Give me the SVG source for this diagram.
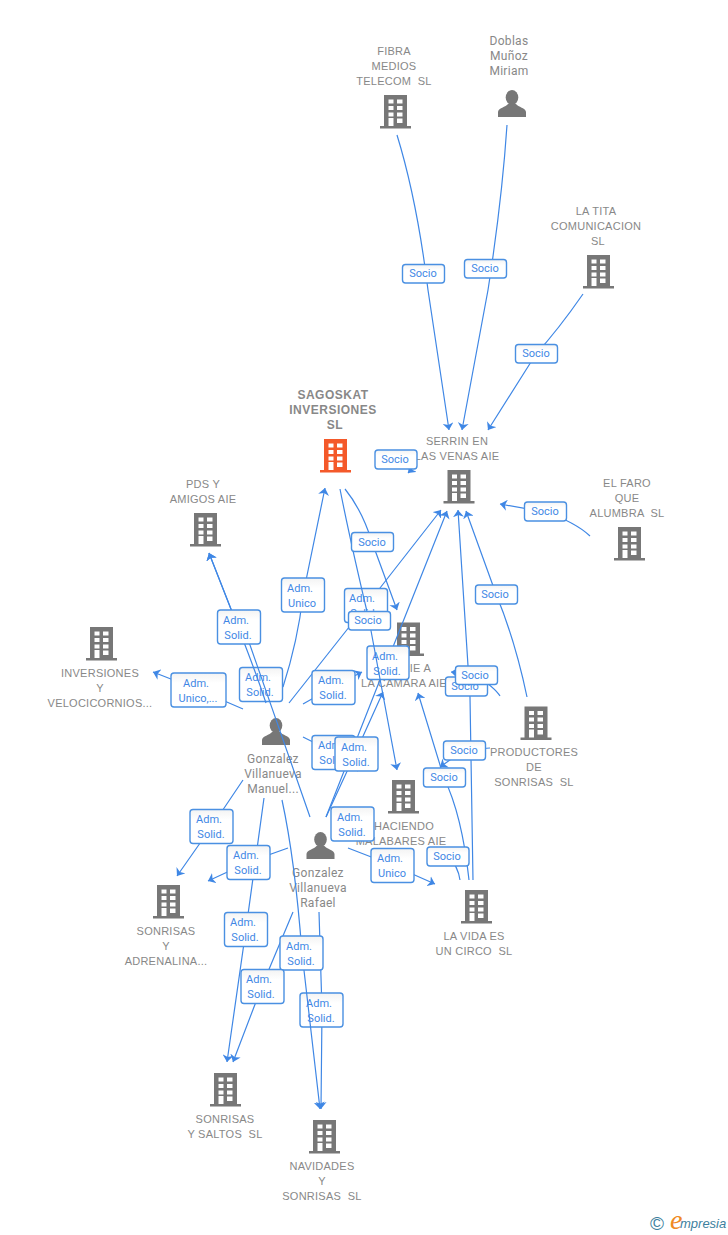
<svg xmlns="http://www.w3.org/2000/svg" width="728" height="1235" viewBox="0 0 728 1235">
<style>
text{font-family:"Liberation Sans",Arial,sans-serif;white-space:pre}
.c{font-size:11px;fill:#888;text-anchor:middle;letter-spacing:.25px}
.p{font-family:Roboto,sans-serif;font-size:12px;fill:#888;text-anchor:middle;letter-spacing:.3px}
.m{font-size:12px;font-weight:bold;fill:#888;text-anchor:middle;letter-spacing:.5px}
.e{fill:none;stroke:#3f87e5;stroke-width:1.2}
.a{marker-end:url(#arr)}
.b{fill:url(#bg);stroke:#4a90e2;stroke-width:1.4}
.t{font-family:Roboto,sans-serif;font-size:11px;fill:#3f87e5;text-anchor:middle}
</style>
<defs>
<linearGradient id="bg" x1="0" y1="0" x2="0" y2="1"><stop offset="0" stop-color="#f3f3f3"/><stop offset=".3" stop-color="#fff"/><stop offset="1" stop-color="#fff"/></linearGradient>
<marker id="arr" viewBox="0 0 7 11" markerWidth="7" markerHeight="11" refX="7" refY="5.5" orient="auto" markerUnits="userSpaceOnUse"><path d="M7,5.5 L0,0 L2,5.5 L0,11 Z" fill="#3f87e5"/></marker>
<g id="bld"><path d="M4,0H27V31H31V33.5H0V31H4ZM8.5,4.5V8.5H13.5V4.5ZM17,4.5V8.5H22.5V4.5ZM8.5,11V15H13.5V11ZM17,11V15H22.5V11ZM8.5,17.5V21.5H13.5V17.5ZM17,17.5V21.5H22.5V17.5ZM8.5,23V31H13.5V23ZM17,23.5V28H22.5V23.5Z" fill-rule="evenodd"/></g>
<g id="psn"><ellipse cx="14" cy="7.5" rx="6.3" ry="7.5"/><path d="M0,27V22C0,18 8,17 10,14H18C20,17 28,18 28,22V27Z"/></g>
</defs>
<rect width="728" height="1235" fill="#fff"/>
<g id="nodes" fill="#777">
<g id="n-sagoskat"><use href="#bld" x="320" y="439" fill="#f4592a"/><text class="m" x="333" y="399">SAGOSKAT</text><text class="m" x="333" y="414">INVERSIONES</text><text class="m" x="335" y="429">SL</text></g>
<g id="n-fibra"><use href="#bld" x="380" y="95"/><text class="c" x="394" y="55">FIBRA</text><text class="c" x="394" y="70">MEDIOS</text><text class="c" x="394" y="85">TELECOM  SL</text></g>
<g id="n-doblas"><use href="#psn" x="498" y="90"/><text class="p" x="509" y="45">Doblas</text><text class="p" x="509" y="60">Muñoz</text><text class="p" x="509" y="75">Miriam</text></g>
<g id="n-tita"><use href="#bld" x="583" y="255"/><text class="c" x="596" y="215">LA TITA</text><text class="c" x="596" y="230">COMUNICACION</text><text class="c" x="598" y="245">SL</text></g>
<g id="n-serrin"><use href="#bld" x="443.500" y="470"/><text class="c" x="457" y="445">SERRIN EN</text><text class="c" x="457" y="460">LAS VENAS AIE</text></g>
<g id="n-faro"><use href="#bld" x="614" y="527"/><text class="c" x="627" y="487">EL FARO</text><text class="c" x="627" y="502">QUE</text><text class="c" x="627" y="517">ALUMBRA  SL</text></g>
<g id="n-pds"><use href="#bld" x="190" y="513"/><text class="c" x="203" y="488">PDS Y</text><text class="c" x="203" y="503">AMIGOS AIE</text></g>
<g id="n-inversiones"><use href="#bld" x="86" y="627"/><text class="c" x="100" y="677">INVERSIONES</text><text class="c" x="100" y="692">Y</text><text class="c" x="100" y="707">VELOCICORNIOS...</text></g>
<g id="n-camara"><use href="#bld" x="393" y="622.500"/><text class="c" x="404" y="672">SONRIE A</text><text class="c" x="404" y="687">LA CAMARA AIE</text></g>
<g id="n-productores"><use href="#bld" x="520.500" y="706.500"/><text class="c" x="534" y="756">PRODUCTORES</text><text class="c" x="534" y="771">DE</text><text class="c" x="534" y="786">SONRISAS  SL</text></g>
<g id="n-haciendo"><use href="#bld" x="388" y="780"/><text class="c" x="404" y="830">HACIENDO</text><text class="c" x="401" y="845">MALABARES AIE</text></g>
<g id="n-vida"><use href="#bld" x="461" y="890"/><text class="c" x="474" y="940">LA VIDA ES</text><text class="c" x="474" y="955">UN CIRCO  SL</text></g>
<g id="n-manuel"><use href="#psn" x="262" y="718"/><text class="p" x="273" y="763">Gonzalez</text><text class="p" x="273" y="778">Villanueva</text><text class="p" x="273" y="793">Manuel...</text></g>
<g id="n-rafael"><use href="#psn" x="306.500" y="832"/><text class="p" x="318" y="877">Gonzalez</text><text class="p" x="318" y="892">Villanueva</text><text class="p" x="318" y="907">Rafael</text></g>
<g id="n-adrenalina"><use href="#bld" x="153" y="885"/><text class="c" x="166" y="935">SONRISAS</text><text class="c" x="166" y="950">Y</text><text class="c" x="166" y="965">ADRENALINA...</text></g>
<g id="n-saltos"><use href="#bld" x="210" y="1073"/><text class="c" x="225" y="1123">SONRISAS</text><text class="c" x="225" y="1138">Y SALTOS  SL</text></g>
<g id="n-navidades"><use href="#bld" x="309" y="1120"/><text class="c" x="322" y="1170">NAVIDADES</text><text class="c" x="322" y="1185">Y</text><text class="c" x="322" y="1200">SONRISAS  SL</text></g>
</g>
<g id="connectors">
<path class="e a" d="M397,135Q417,200 428,290L449,430"/>
<path class="e a" d="M507,125Q502,200 488,290L462,430"/>
<path class="e a" d="M583,294Q558,330 536,354Q510,395 488,430"/>
<path class="e a" d="M590,536Q575,522 545,512L500,504"/>
<path class="e a" d="M412,469L408,473"/>
<path class="e a" d="M345,489Q362,510 372,542L397,610"/>
<path class="e a" d="M283,687Q298,640 303,595L325,488"/>
<path class="e a" d="M289,703L380,588L441,510"/>
<path class="e a" d="M326,817L387,662L447,511"/>
<path class="e a" d="M243,709L199,690L153,672"/>
<path class="e a" d="M303,704L333,687L362,672"/>
<path class="e" d="M303,737L333,752L358,771"/>
<path class="e a" d="M326,817L355,754L383,692"/>
<path class="e a" d="M348,848L392,865L435,884"/>
<path class="e" d="M460,880Q458,866 448,856"/>
<path class="e a" d="M469,880Q462,815 444,778L418,693"/>
<path class="e a" d="M473,880L470,697L458,510"/>
<path class="e a" d="M527,697Q515,640 496,594L466,511"/>
<path class="e a" d="M500,696Q495,688 476,675L451,672"/>
<path class="e a" d="M490,748L464,750L440,767"/>
<path class="e a" d="M243,780L212,826L177,876"/>
<path class="e a" d="M288,848L249,862L208,881"/>
<path class="e a" d="M264,798L246,929L227,1062"/>
<path class="e a" d="M293,912L262,986L233,1062"/>
<path class="e a" d="M319,912L322,1010L321,1109"/>
<rect class="b" x="344.500" y="588.500" width="43" height="34" rx="3"/><text class="t" x="362" y="602">Adm.</text><text class="t" x="364" y="617">Solid.</text>
<rect class="b" x="239.500" y="667.500" width="43" height="34" rx="3"/><text class="t" x="258" y="681">Adm.</text><text class="t" x="260" y="696">Solid.</text>
<rect class="b" x="300" y="993" width="43" height="34" rx="3"/><text class="t" x="319" y="1007">Adm.</text><text class="t" x="321" y="1022">Solid.</text>
<rect class="b" x="367" y="646" width="42" height="33.500" rx="3"/><text class="t" x="385" y="660">Adm.</text><text class="t" x="387" y="675">Solid.</text>
<path class="e a" d="M340,489Q350,540 369,620L397,770"/>
<path class="e a" d="M266,703Q255,670 238,627L209,553"/>
<path class="e a" d="M310,817L250,645L238,627L209,553"/>
<path class="e a" d="M282,800Q295,860 302,953L320,1109"/>
<g id="labels">
<rect class="b" x="402.500" y="264.500" width="42" height="18.500" rx="3"/><text class="t" x="423" y="277">Socio</text>
<rect class="b" x="464.500" y="259.500" width="42" height="18.500" rx="3"/><text class="t" x="485" y="272">Socio</text>
<rect class="b" x="515.500" y="344.500" width="42" height="18.500" rx="3"/><text class="t" x="536" y="357">Socio</text>
<rect class="b" x="375" y="450" width="42" height="19" rx="3"/><text class="t" x="395" y="463">Socio</text>
<rect class="b" x="524.500" y="502" width="42" height="19" rx="3"/><text class="t" x="545" y="515">Socio</text>
<rect class="b" x="351.500" y="532.500" width="42" height="19" rx="3"/><text class="t" x="372" y="546">Socio</text>
<rect class="b" x="348.500" y="611.500" width="42" height="18.500" rx="3"/><text class="t" x="368" y="624">Socio</text>
<rect class="b" x="475.500" y="585" width="42" height="19" rx="3"/><text class="t" x="495" y="598">Socio</text>
<rect class="b" x="281.500" y="578" width="43" height="34" rx="3"/><text class="t" x="300" y="592">Adm.</text><text class="t" x="302" y="607">Unico</text>
<rect class="b" x="217.500" y="610" width="43" height="34" rx="3"/><text class="t" x="236" y="624">Adm.</text><text class="t" x="238" y="639">Solid.</text>
<rect class="b" x="171" y="673" width="55" height="34" rx="3"/><text class="t" x="196" y="687">Adm.</text><text class="t" x="198" y="702">Unico,...</text>
<rect class="b" x="312" y="670.500" width="43" height="34" rx="3"/><text class="t" x="331" y="684">Adm.</text><text class="t" x="333" y="699">Solid.</text>
<rect class="b" x="445.500" y="677" width="42" height="19" rx="3"/><text class="t" x="465" y="690">Socio</text>
<rect class="b" x="455.500" y="666" width="42" height="18.500" rx="3"/><text class="t" x="475" y="679">Socio</text>
<rect class="b" x="312" y="735.500" width="43" height="34" rx="3"/><text class="t" x="331" y="749">Adm.</text><text class="t" x="333" y="764">Solid.</text>
<rect class="b" x="335" y="737" width="43" height="34" rx="3"/><text class="t" x="354" y="751">Adm.</text><text class="t" x="356" y="766">Solid.</text>
<rect class="b" x="443.500" y="741" width="42" height="19" rx="3"/><text class="t" x="464" y="754">Socio</text>
<rect class="b" x="423.500" y="768" width="42" height="19" rx="3"/><text class="t" x="444" y="781">Socio</text>
<rect class="b" x="331" y="807" width="43" height="34" rx="3"/><text class="t" x="350" y="821">Adm.</text><text class="t" x="352" y="836">Solid.</text>
<rect class="b" x="371" y="848.500" width="43" height="34" rx="3"/><text class="t" x="390" y="862">Adm.</text><text class="t" x="392" y="877">Unico</text>
<rect class="b" x="427" y="847" width="42" height="19" rx="3"/><text class="t" x="447" y="860">Socio</text>
<rect class="b" x="190" y="809.500" width="43" height="34" rx="3"/><text class="t" x="209" y="823">Adm.</text><text class="t" x="211" y="838">Solid.</text>
<rect class="b" x="227" y="845.500" width="43" height="34" rx="3"/><text class="t" x="246" y="859">Adm.</text><text class="t" x="248" y="874">Solid.</text>
<rect class="b" x="224.500" y="912.500" width="43" height="34" rx="3"/><text class="t" x="243" y="926">Adm.</text><text class="t" x="245" y="941">Solid.</text>
<rect class="b" x="280" y="936" width="43" height="34" rx="3"/><text class="t" x="299" y="950">Adm.</text><text class="t" x="301" y="965">Solid.</text>
<rect class="b" x="241" y="969.500" width="43" height="34" rx="3"/><text class="t" x="259" y="983">Adm.</text><text class="t" x="261" y="998">Solid.</text>
</g>
</g>
<g id="logo">
<text x="650" y="1230" style="font-size:19px" fill="#3d7f9e">©</text>
<text x="670" y="1229" style="font-family:'Liberation Serif',serif;font-size:28px;font-style:italic" fill="#f08a24">e</text>
<text x="680" y="1228" style="font-family:'Liberation Sans',sans-serif;font-size:13px;font-style:italic" fill="#3d7f9e">mpresia</text>
</g>
</svg>
